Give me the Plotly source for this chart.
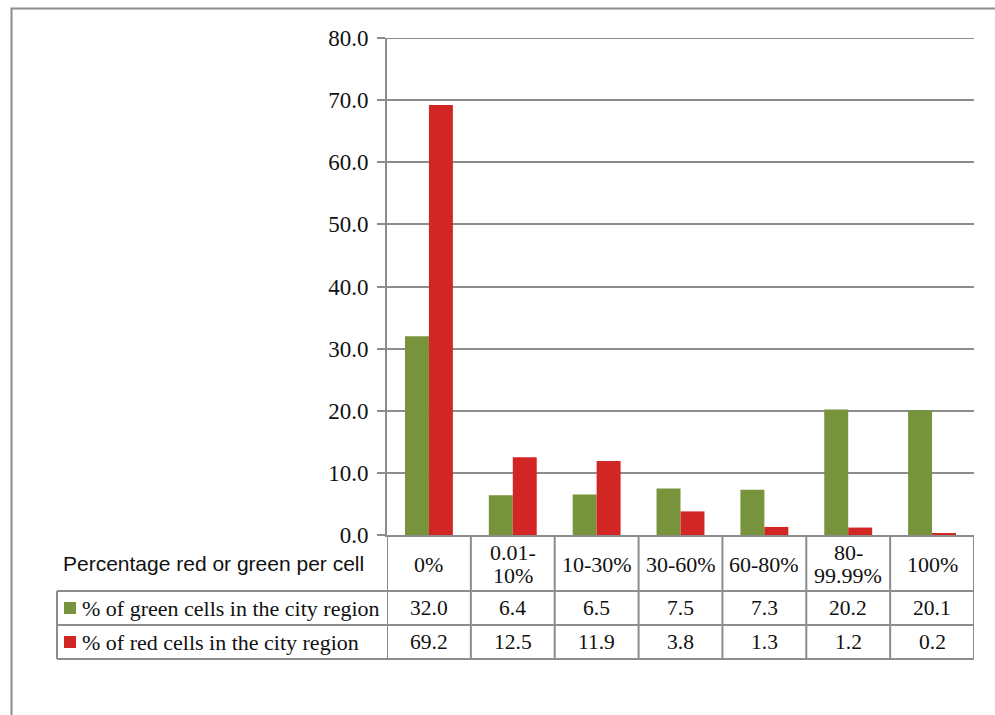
import plotly.graph_objects as go

categories = ["0%", "0.01-<br>10%", "10-30%", "30-60%", "60-80%", "80-<br>99.99%", "100%"]
green_values = [32.0, 6.4, 6.5, 7.5, 7.3, 20.2, 20.1]
red_values = [69.2, 12.5, 11.9, 3.8, 1.3, 1.2, 0.2]
series_names = ["% of green cells in the city region", "% of red cells in the city region"]
header_label = "Percentage red or green per cell"
y_ticks = [0, 10, 20, 30, 40, 50, 60, 70, 80]

GREEN = "#77933C"
RED = "#D22625"
GRID = "#8C8C8C"
SERIF = "Liberation Serif, Times New Roman, serif"
SANS = "Liberation Sans, Arial, sans-serif"

W, H = 995, 715
L, R, T, B = 387, 974, 38, 535
PW, PH = R - L, B - T

def px(x):
    return (x - L) / PW

def py(y):
    return (B - y) / PH

idx = list(range(len(categories)))

fig = go.Figure()
fig.add_trace(go.Bar(x=idx, y=green_values, name=series_names[0], marker=dict(color=GREEN, line=dict(width=0))))
fig.add_trace(go.Bar(x=idx, y=red_values, name=series_names[1], marker=dict(color=RED, line=dict(width=0))))

shapes = []
annotations = []

# outer frame
shapes.append(dict(type="rect", xref="paper", yref="paper", x0=px(11.5), x1=px(1010), y0=py(8.5), y1=py(730),
                   line=dict(color="#8C8C8C", width=2), layer="below"))

# top gridline at max tick
shapes.append(dict(type="line", xref="paper", yref="y", x0=0, x1=1, y0=y_ticks[-1], y1=y_ticks[-1],
                   line=dict(color=GRID, width=2), layer="below"))

row_top = 591
row_mid = 625
row_bot = 659
table_left = 57

for k in range(len(categories) + 1):
    xb = k - 0.5
    shapes.append(dict(type="line", xref="x", yref="paper", x0=xb, x1=xb, y0=py(B), y1=py(row_bot),
                       line=dict(color=GRID, width=2)))
shapes.append(dict(type="line", xref="paper", yref="paper", x0=px(table_left), x1=px(table_left),
                   y0=py(row_top), y1=py(row_bot), line=dict(color=GRID, width=2)))
for yy in [row_top, row_mid, row_bot]:
    shapes.append(dict(type="line", xref="paper", yref="paper", x0=px(table_left), x1=1,
                       y0=py(yy), y1=py(yy), line=dict(color=GRID, width=2)))

TXT = "#111111"
annotations.append(dict(text=header_label, xref="paper", yref="paper", x=px(366), y=py(563),
                        xanchor="right", yanchor="middle", showarrow=False,
                        font=dict(family=SANS, size=21, color=TXT)))
header_center = 564
line_gap = 23
for i, c in zip(idx, categories):
    parts = c.split("<br>")
    n = len(parts)
    for j, part in enumerate(parts):
        yc = header_center + (j - (n - 1) / 2) * line_gap
        annotations.append(dict(text=part, xref="x", yref="paper", x=i, y=py(yc), xanchor="center",
                                yanchor="middle", showarrow=False,
                                font=dict(family=SERIF, size=22, color=TXT)))

rows = [(green_values, GREEN, 608, series_names[0]), (red_values, RED, 642, series_names[1])]
for vals, col, yc, nm in rows:
    shapes.append(dict(type="rect", xref="paper", yref="paper", x0=px(64), x1=px(76),
                       y0=py(yc - 6), y1=py(yc + 6), fillcolor=col, line=dict(width=0)))
    annotations.append(dict(text=nm, xref="paper", yref="paper", x=px(80), y=py(yc), xanchor="left",
                            yanchor="middle", showarrow=False,
                            font=dict(family=SERIF, size=22, color=TXT)))
    for i, v in zip(idx, vals):
        annotations.append(dict(text=f"{v:.1f}", xref="x", yref="paper", x=i, y=py(yc), xanchor="center",
                                yanchor="middle", showarrow=False,
                                font=dict(family=SERIF, size=21.5, color=TXT)))

fig.update_layout(
    width=W, height=H,
    margin=dict(l=L, r=W - R, t=T, b=H - B, pad=0),
    paper_bgcolor="white", plot_bgcolor="white",
    barmode="group", bargap=1.5 / 3.5, bargroupgap=0,
    showlegend=False,
    shapes=shapes, annotations=annotations,
    xaxis=dict(range=[-0.5, len(categories) - 0.5], showticklabels=False, showgrid=False, zeroline=False,
               showline=True, linecolor=GRID, linewidth=2, ticks="", fixedrange=True),
    yaxis=dict(range=[0, 80], tickvals=y_ticks, tickformat=".1f", showgrid=True, gridcolor=GRID, gridwidth=2,
               zeroline=False, showline=True, linecolor=GRID, linewidth=2, ticks="outside", ticklen=8,
               tickwidth=2, tickcolor=GRID, ticklabelstandoff=4,
               tickfont=dict(family=SERIF, size=23, color=TXT)),
)

fig.write_html("out.html")
